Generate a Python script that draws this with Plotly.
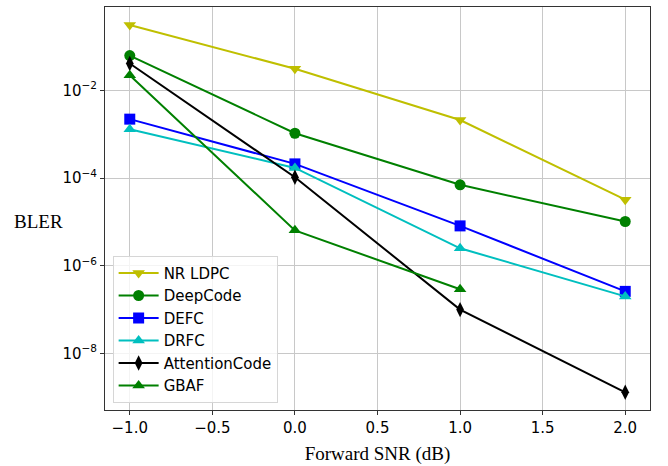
import plotly.graph_objects as go

snr = [-1.0, 0.0, 1.0, 2.0]
nr_ldpc = [0.31, 0.031, 0.0021, 3.2e-5]
deepcode = [0.062, 1.05e-3, 7.0e-5, 1.02e-5]
defc = [2.2e-3, 2.1e-4, 8.1e-6, 2.6e-7]
drfc = [1.3e-3, 1.7e-4, 2.5e-6, 2.0e-7]
attention = [0.041, 1.04e-4, 1.0e-7, 1.3e-9]
gbaf_snr = [-1.0, 0.0, 1.0]
gbaf = [0.022, 6.4e-6, 2.9e-7]

ytickvals = [1e-8, 1e-6, 1e-4, 1e-2]
yticktext = ["10<sup>\u22128</sup>", "10<sup>\u22126</sup>", "10<sup>\u22124</sup>", "10<sup>\u22122</sup>"]
xtickvals = [-1.0, -0.5, 0.0, 0.5, 1.0, 1.5, 2.0]
xticktext = ["\u22121.0", "\u22120.5", "0.0", "0.5", "1.0", "1.5", "2.0"]

series = [
    ("NR LDPC", snr, nr_ldpc, "#bfbf00", "triangle-down"),
    ("DeepCode", snr, deepcode, "#008000", "circle"),
    ("DEFC", snr, defc, "#0000ff", "square"),
    ("DRFC", snr, drfc, "#00bfbf", "triangle-up"),
    ("AttentionCode", snr, attention, "#000000", "diamond-tall"),
    ("GBAF", gbaf_snr, gbaf, "#008000", "triangle-up"),
]

fig = go.Figure()
for name, xs, ys, color, sym in series:
    fig.add_trace(go.Scatter(
        x=xs, y=ys, name=name, mode="lines+markers",
        line=dict(color=color, width=2),
        marker=dict(symbol=sym, size=11, color=color),
    ))

fig.update_layout(
    width=668, height=466,
    margin=dict(l=105, r=18, t=6, b=54),
    paper_bgcolor="white", plot_bgcolor="white",
    font=dict(family="DejaVu Sans", size=15, color="black"),
    showlegend=True,
    legend=dict(
        x=0.014, y=0.018, xanchor="left", yanchor="bottom",
        bgcolor="rgba(255,255,255,0.8)", bordercolor="#d6d6d6", borderwidth=1,
        font=dict(family="DejaVu Sans", size=15),
        tracegroupgap=0, itemwidth=40,
    ),
    xaxis=dict(
        range=[-1.15, 2.15], tickvals=xtickvals, ticktext=xticktext,
        showgrid=True, gridcolor="#c8c8c8", gridwidth=1,
        showline=True, linecolor="#333333", linewidth=1, mirror=True,
        ticks="outside", ticklen=4, tickcolor="#333333", zeroline=False,
        title=dict(text="Forward SNR (dB)", font=dict(family="Liberation Serif", size=19), standoff=10),
    ),
    yaxis=dict(
        type="log", range=[-9.29, -0.10], tickvals=ytickvals, ticktext=yticktext,
        showgrid=True, gridcolor="#c8c8c8", gridwidth=1,
        showline=True, linecolor="#333333", linewidth=1, mirror=True,
        ticks="outside", ticklen=4, tickcolor="#333333", zeroline=False,
    ),
    annotations=[dict(
        text="BLER", x=-0.17, y=0.468, xref="paper", yref="paper",
        xanchor="left", yanchor="middle", showarrow=False,
        font=dict(family="Liberation Serif", size=19),
    )],
)

fig.write_html("out.html", config={"displayModeBar": False},
               post_script="document.body.style.margin='0';")
